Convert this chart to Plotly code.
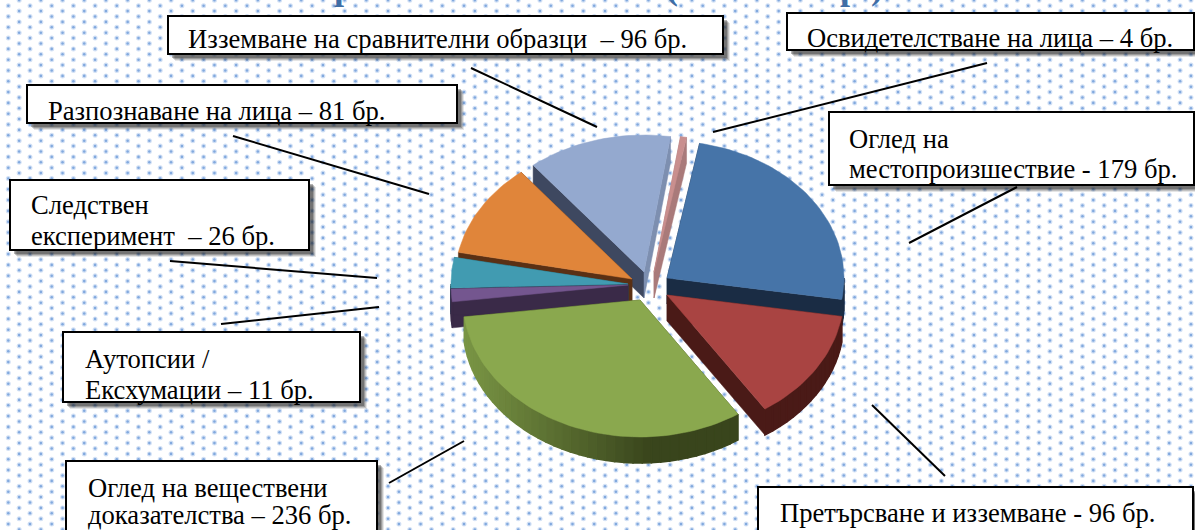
import numpy as np
import plotly.graph_objects as go

categories = ["Оглед на местопроизшествие", "Претърсване и изземване", "Оглед на веществени доказателства",
              "Аутопсии / Ексхумации", "Следствен експеримент", "Разпознаване на лица",
              "Изземване на сравнителни образци", "Освидетелстване на лица"]
values = [179, 96, 236, 11, 26, 81, 96, 4]
top_colors = ["#4674a8", "#a94442", "#8aa84e", "#74568f", "#419bb1", "#e0853a", "#94a9cf", "#c98f8e"]
wall_left = ["#1a2c44", "#4a1a17", "#7a9645", "#3a2a48", "#1e5560", "#5a3014", "#3e4860", "#a97a7a"]
wall_right = ["#1a2c44", "#4a1a17", "#39451c", "#3a2a48", "#1e5560", "#5a3014", "#3e4860", "#a97a7a"]
edge_end = ["#1a2c44", "#4a1a17", "#39451c", "#3a2a48", "#1e5560", "#5a3014", "#7d8fb0", "#a97a7a"]
centers = [(667, 278), (667, 295), (640, 300), (628, 285), (628, 284), (632, 279), (644, 272), (654, 272)]
draw_order = [6, 7, 5, 4, 3, 0, 1, 2]
start_deg = 10.6
rx, ry, depth = 177, 137, 26

labels = [
    ("Изземване на сравнителни образци  – 96 бр.", 186, 39),
    ("Разпознаване на лица – 81 бр.", 46, 111),
    ("Следствен", 29, 205),
    ("експеримент  – 26 бр.", 29, 236),
    ("Аутопсии /", 83, 359),
    ("Ексхумации – 11 бр.", 83, 390),
    ("Оглед на веществени", 86, 488),
    ("доказателства – 236 бр.", 86, 515),
    ("Претърсване и изземване - 96 бр.", 778, 513),
    ("Освидетелстване на лица – 4 бр.", 805, 38),
    ("Оглед на", 847, 139),
    ("местопроизшествие - 179 бр.", 847, 169),
]
boxes = [(168, 16, 723, 54), (27, 85, 457, 123), (10, 180, 309, 250), (787, 13, 1194, 50),
         (829, 112, 1194, 185), (63, 332, 360, 402), (66, 461, 377, 540), (758, 487, 1193, 540)]
connectors = [(471, 68, 597, 127), (233, 136, 429, 194), (170, 261, 377, 278), (221, 324, 379, 307),
              (389, 483, 464, 441), (872, 405, 945, 476), (909, 243, 1017, 187), (713, 132, 987, 63)]
# only the lower edge of the original heading is visible: these are the glyphs that can be read
title_parts = [("р", 344), ("(", 672), ("р", 850), (")", 877)]


def pt(c, ang, dy=0.0):
    a = np.radians(ang)
    return c[0] + rx * np.sin(a), c[1] - ry * np.cos(a) + dy


def mix(c1, c2, t):
    a = [int(c1[i:i + 2], 16) for i in (1, 3, 5)]
    b = [int(c2[i:i + 2], 16) for i in (1, 3, 5)]
    return "#" + "".join(f"{round(x + (y - x) * t):02x}" for x, y in zip(a, b))


def poly(xs, ys, color, name, lw=0.5):
    return go.Scatter(x=list(xs) + [xs[0]], y=list(ys) + [ys[0]], mode="lines", fill="toself",
                      fillcolor=color, line=dict(width=lw, color=color), hoverinfo="skip",
                      showlegend=False, name=name)


fig = go.Figure()

# dotted paper background
col_x = np.arange(8.3, 1200, 21.7)
row_y = np.arange(0.3, 535, 5.4)
dx, dy = [], []
for n, yy in enumerate(row_y):
    for xx in col_x:
        dx.append(xx + (10.85 if n % 2 == 0 else 0))
        dy.append(yy)
fig.add_trace(go.Scatter(x=dx, y=dy, mode="markers", marker=dict(size=5, color="#d3e1f5"),
                         hoverinfo="skip", showlegend=False, name="dots halo"))
fig.add_trace(go.Scatter(x=dx, y=dy, mode="markers", marker=dict(size=2.6, color="#82a9de"),
                         hoverinfo="skip", showlegend=False, name="dots"))

# slices
total = sum(values)
cum = np.cumsum([0] + values)
a0s = start_deg + 360 * cum[:-1] / total
a1s = start_deg + 360 * cum[1:] / total
for i in draw_order:
    c, a0, a1 = centers[i], a0s[i], a1s[i]
    # cut faces
    for ang, col in ((a0, wall_right[i]), (a1, edge_end[i])):
        x1, y1 = pt(c, ang)
        fig.add_trace(poly([c[0], x1, x1, c[0]], [c[1], y1, y1 + depth, c[1] + depth], col, categories[i] + " cut"))
    # outer wall
    lo, hi = max(a0, 90), min(a1, 270)
    if lo < hi:
        steps = max(2, int((hi - lo) / 3) + 1)
        edges = np.linspace(lo, hi, steps + 1)
        for k in range(steps):
            seg = np.linspace(edges[k], edges[k + 1], 4)
            top = [pt(c, s) for s in seg]
            xs = [p[0] for p in top] + [p[0] for p in top[::-1]]
            ys = [p[1] for p in top] + [p[1] + depth for p in top[::-1]]
            xm = pt(c, (edges[k] + edges[k + 1]) / 2)[0]
            t = float(np.clip((xm - c[0] + rx) / (1.05 * rx), 0, 1))
            fig.add_trace(poly(xs, ys, mix(wall_left[i], wall_right[i], t), categories[i] + " wall", lw=1.5))
    # top face
    arc = np.linspace(a0, a1, max(3, int((a1 - a0) / 2) + 2))
    pts = [pt(c, s) for s in arc]
    fig.add_trace(poly([c[0]] + [p[0] for p in pts], [c[1]] + [p[1] for p in pts], top_colors[i], categories[i]))

shapes = []
for x0, y0, x1, y1 in boxes:
    for off, alpha in ((7, 0.12), (6, 0.18), (5, 0.25), (4, 0.35)):
        shapes.append(dict(type="rect", x0=x0 + off, y0=y0 + off, x1=x1 + off, y1=y1 + off,
                           fillcolor=f"rgba(40,40,40,{alpha})", line=dict(width=0), layer="above"))
for x0, y0, x1, y1 in boxes:
    shapes.append(dict(type="rect", x0=x0, y0=y0, x1=x1, y1=y1, fillcolor="white",
                       line=dict(color="black", width=2), layer="above"))
for x0, y0, x1, y1 in connectors:
    shapes.append(dict(type="line", x0=x0, y0=y0, x1=x1, y1=y1, line=dict(color="black", width=2), layer="above"))

annotations = [dict(x=x, y=y, text=t, xanchor="left", yanchor="middle", showarrow=False,
                    font=dict(family="Liberation Serif", size=26.6, color="black")) for t, x, y in labels]
for t, x in title_parts:
    annotations.append(dict(x=x, xref="x", y=1 + 13 / 530, yref="paper", text=t, xanchor="center", yanchor="middle",
                            showarrow=False,
                            font=dict(family="Liberation Serif", size=36, color="#3f6ea6", weight="bold")))

fig.update_layout(
    width=1195, height=530, margin=dict(l=0, r=0, t=0, b=0), autosize=False,
    paper_bgcolor="white", plot_bgcolor="white", showlegend=False,
    xaxis=dict(range=[0, 1195], visible=False, fixedrange=True),
    yaxis=dict(range=[530, 0], visible=False, fixedrange=True),
    shapes=shapes, annotations=annotations,
)
fig.write_html("out.html", config={"displayModeBar": False},
               post_script="document.body.style.margin='0';document.documentElement.style.overflow='hidden';")
